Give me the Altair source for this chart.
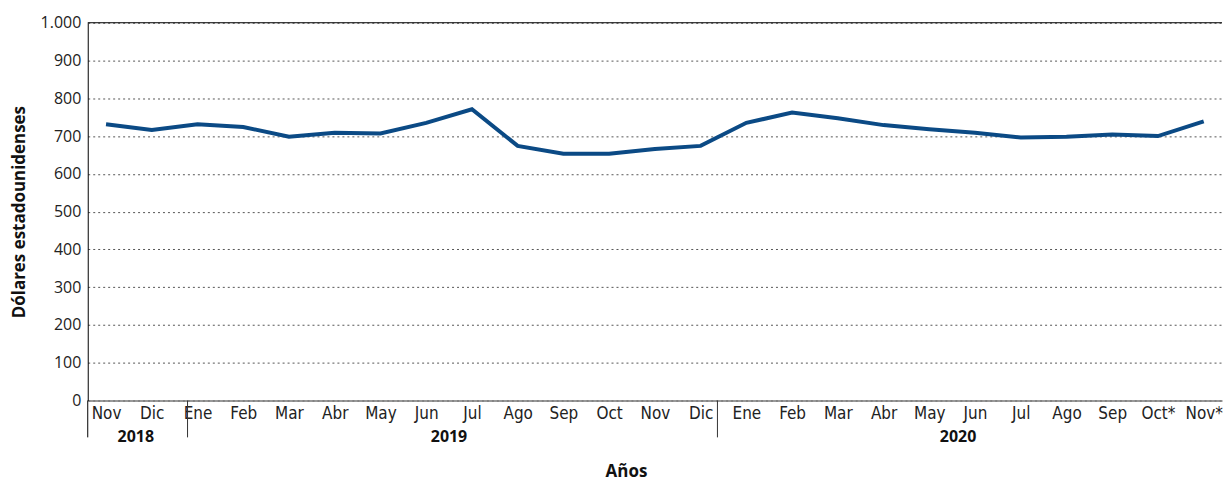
import altair as alt
import pandas as pd

months = ["Nov", "Dic", "Ene", "Feb", "Mar", "Abr", "May", "Jun", "Jul", "Ago", "Sep", "Oct",
          "Nov", "Dic", "Ene", "Feb", "Mar", "Abr", "May", "Jun", "Jul", "Ago", "Sep", "Oct*", "Nov*"]
years = [2018] * 2 + [2019] * 12 + [2020] * 11
values = [731, 716, 731, 724, 698, 709, 707, 735, 771, 674, 653, 653, 666, 674,
          735, 762, 747, 729, 718, 709, 696, 698, 704, 700, 739]

year_labels = ["2018", "2019", "2020"]
year_anchor = ["Dic|2018", "Jul|2019", "Jun|2020"]
sep_keys = ["Ene|2019", "Ene|2020"]

keys = [f"{m}|{y}" for m, y in zip(months, years)]
df = pd.DataFrame({"key": keys, "valor": values})
top_df = pd.DataFrame({"valor": [1000]})
one_df = pd.DataFrame({"a": [0]})

narrow = "Liberation Sans Narrow, DejaVu Sans Condensed, sans-serif"
main_font = "Open Sans"

xscale = alt.Scale(domain=keys, type="point", padding=0.4)
x_axis = alt.Axis(
    title="Años", labelExpr="split(datum.value, '|')[0]", labelAngle=0, ticks=False,
    domainColor="#777777", domainWidth=1.5, labelFont=narrow, labelFontSize=17, labelColor="#222222",
    labelPadding=5, titleFont=main_font, titleFontWeight="bold", titleFontSize=17,
    titleColor="#111111", titlePadding=42, titleX=540, grid=False,
)
x_enc = alt.X("key:N", scale=xscale, sort=keys, axis=x_axis)

y_axis = alt.Axis(
    values=list(range(0, 1001, 100)),
    labelExpr="replace(format(datum.value, ',.0f'), ',', '.')",
    title="Dólares estadounidenses", grid=True, gridDash=[2, 3], gridColor="#555555",
    gridWidth=1, ticks=False, domain=True, domainColor="#000000", domainWidth=1,
    labelFont=main_font, labelFontSize=16, labelColor="#222222", labelPadding=7,
    titleFont=main_font, titleFontSize=17, titleFontWeight="bold", titleColor="#111111",
    titlePadding=12,
)
y_enc = alt.Y("valor:Q", scale=alt.Scale(domain=[0, 1000]), axis=y_axis)

line = alt.Chart(df).mark_line(color="#0b4a85", strokeWidth=4).encode(x=x_enc, y=y_enc)

top = alt.Chart(top_df).mark_rule(color="#000000", strokeWidth=1).encode(y=y_enc)

layers = [top, line]

sep_offsets = [-10, -29]
for k, off in zip(sep_keys, sep_offsets):
    layers.append(
        alt.Chart(pd.DataFrame({"key": [k]})).mark_rule(color="#333333", strokeWidth=1, xOffset=off).encode(
            x=x_enc, y=alt.value(379), y2=alt.value(416)
        )
    )

layers.append(
    alt.Chart(one_df).mark_rule(color="#000000", strokeWidth=1).encode(
        x=alt.value(0), y=alt.value(379), y2=alt.value(416)
    )
)

year_offsets = [-16, -23, -17]
for lab, anc, off in zip(year_labels, year_anchor, year_offsets):
    layers.append(
        alt.Chart(pd.DataFrame({"key": [anc], "year": [lab]})).mark_text(
            xOffset=off, font=main_font, fontWeight="bold", fontSize=16, baseline="middle", color="#111111"
        ).encode(x=x_enc, y=alt.value(416), text="year:N")
    )

chart = alt.layer(*layers).properties(
    width=1138, height=379,
    padding={"left": 2, "top": 6, "right": 0, "bottom": 5},
).configure_view(stroke=None)

chart.save("out.html", embed_options={"renderer": "svg", "actions": False})
